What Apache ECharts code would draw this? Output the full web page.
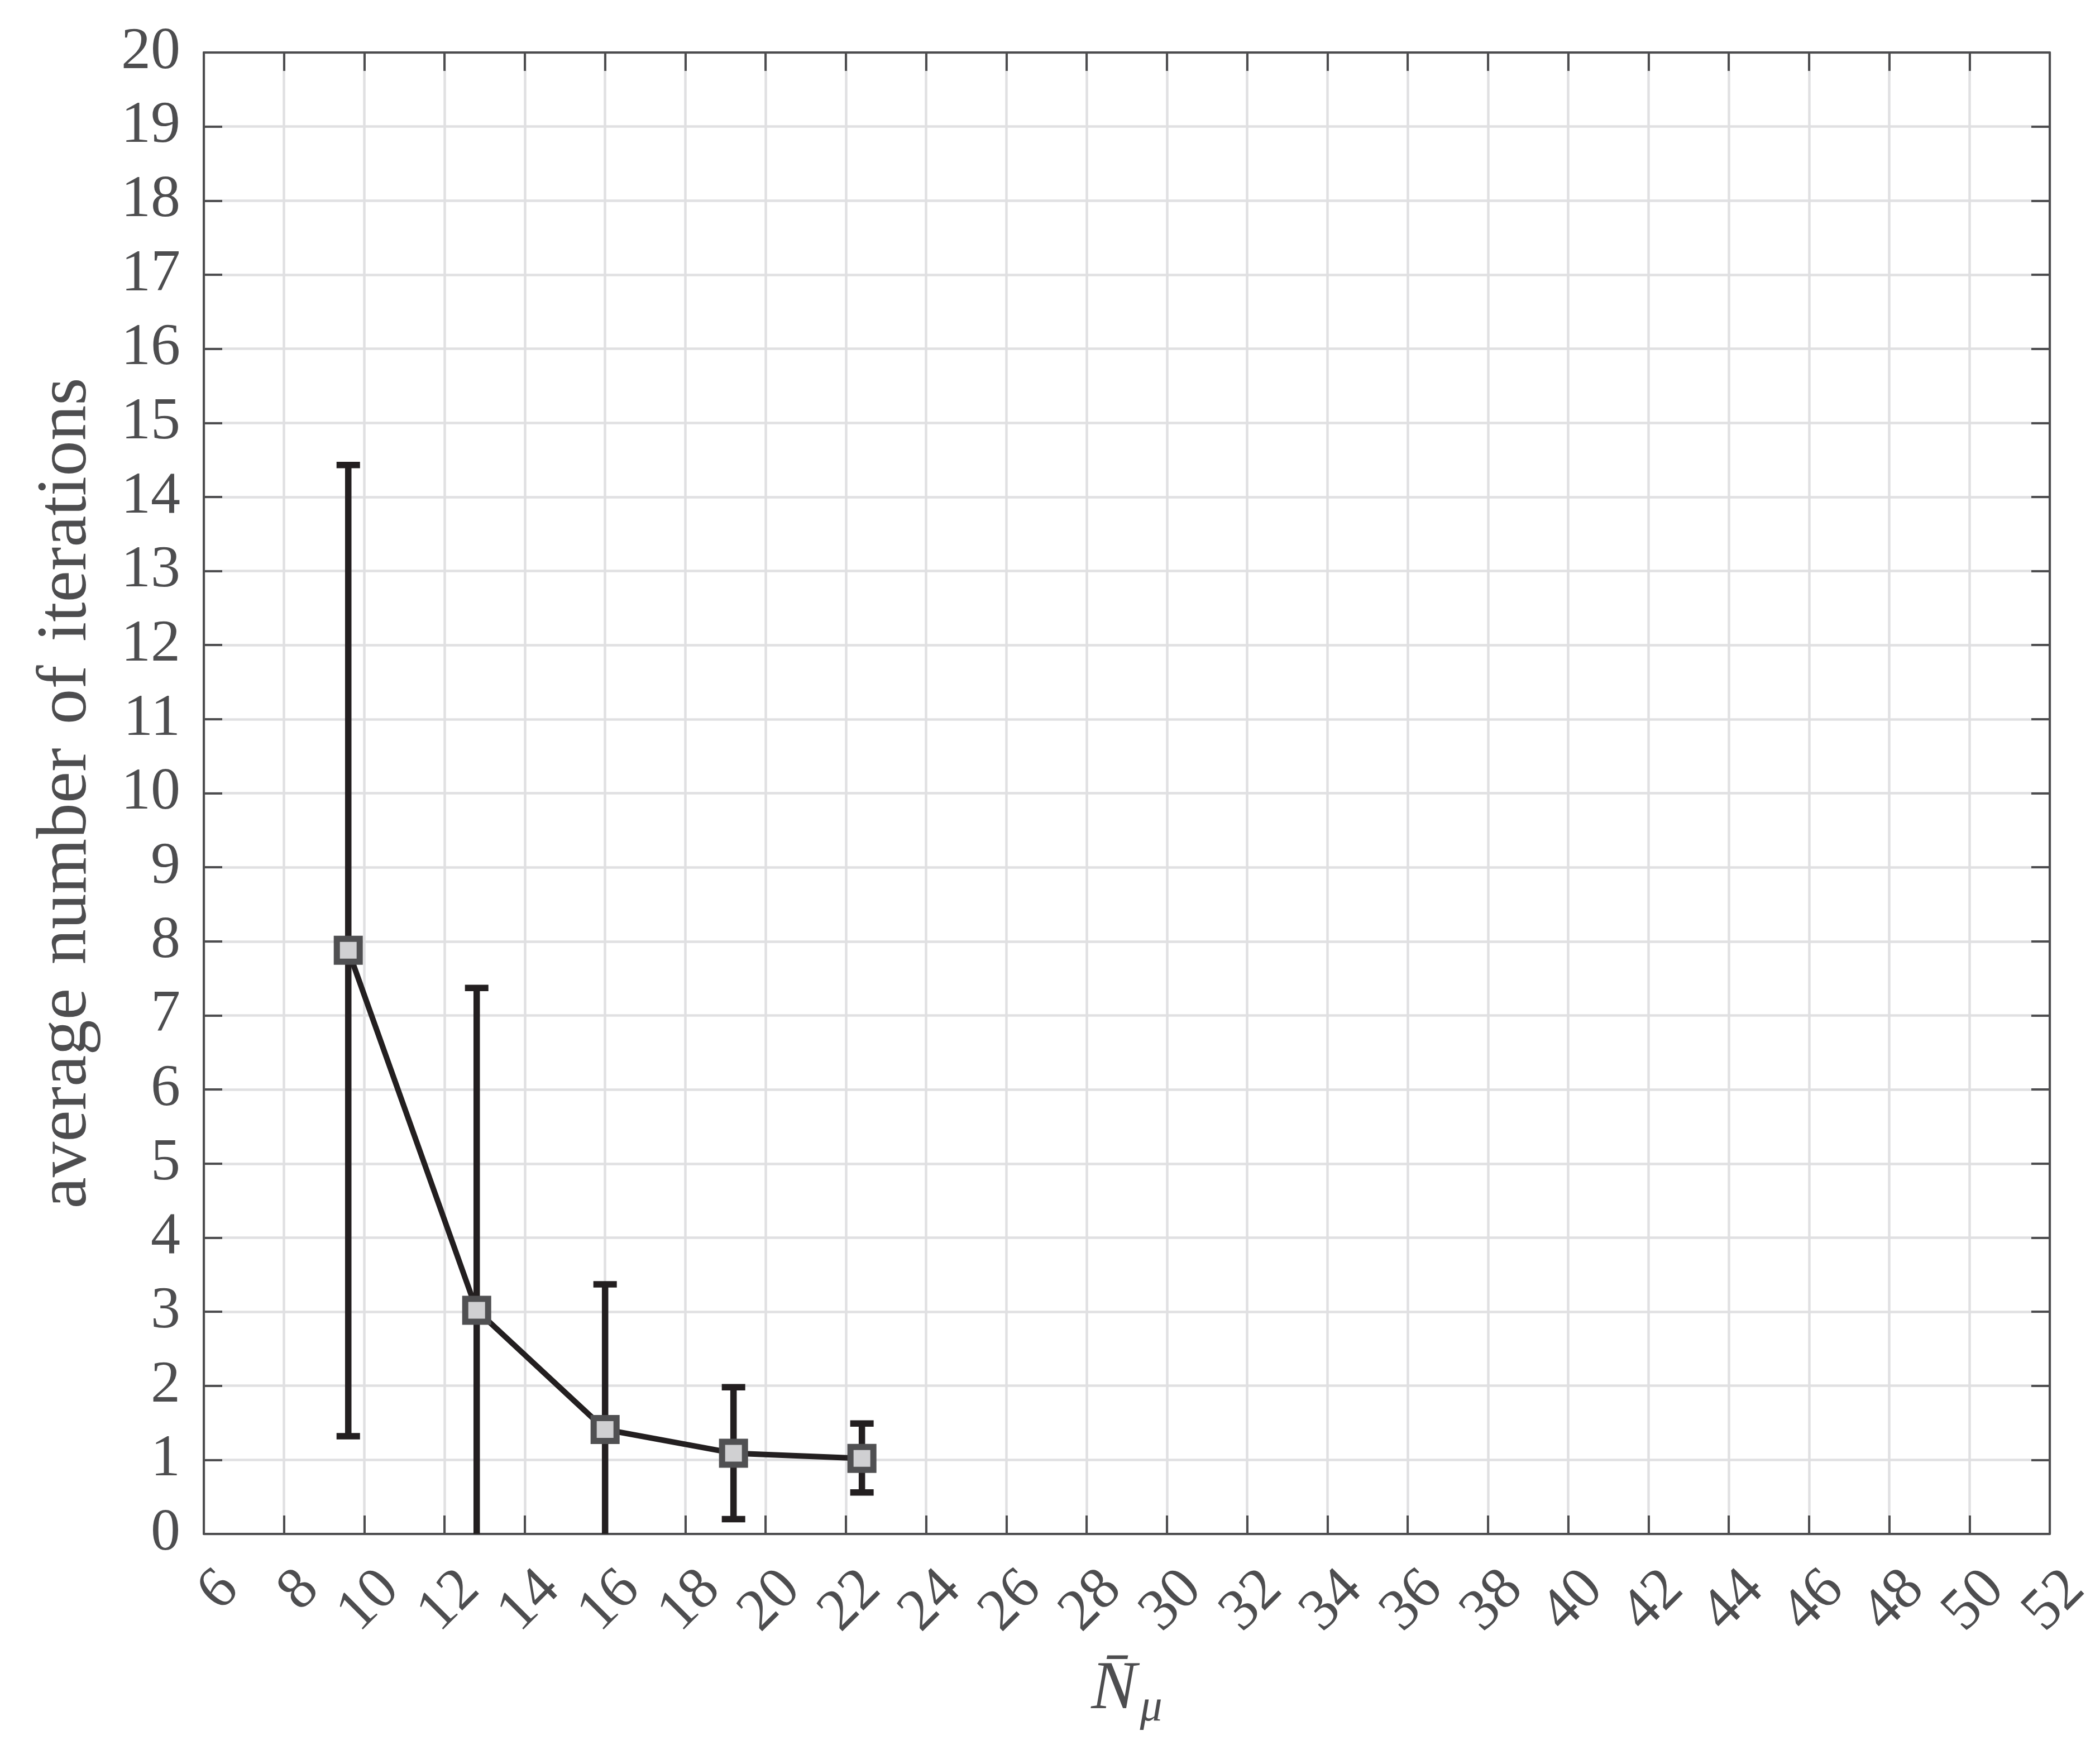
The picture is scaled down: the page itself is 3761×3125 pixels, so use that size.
<!DOCTYPE html>
<html>
<head>
<meta charset="utf-8">
<title>average number of iterations</title>
<script src="https://cdn.jsdelivr.net/npm/echarts@6.0.0/dist/echarts.min.js"></script>
<style>
  html, body { margin: 0; padding: 0; background: #fff; }
  #chart { width: 3761px; height: 3125px; }
</style>
</head>
<body>
<div id="chart"></div>
<script>
// values
const nMu = [9.6, 12.8, 16.0, 19.2, 22.4];
const avgIter = [7.88, 3.02, 1.41, 1.09, 1.02];
const errLow = [1.32, -1.33, -0.55, 0.2, 0.56];
const errHigh = [14.43, 7.37, 3.37, 1.98, 1.49];

const xTicks = { min: 6, max: 52, step: 2 };
const yTicks = { min: 0, max: 20, step: 1 };

(function () {
  let myChart = echarts.init(document.getElementById('chart'));

  const axisColor = '#4d4d4f';
  const gridColor = '#e0e0e2';
  const font = "'Liberation Serif', serif";

  let lineData = nMu.map(function (x, i) { return [x, avgIter[i]]; });
  let errData = nMu.map(function (x, i) { return [x, errLow[i], errHigh[i]]; });

  // ticks pointing inward, box on all four sides
  function boxAxis(extra) {
    return Object.assign({
      type: 'value',
      nameMoveOverlap: false,
      axisLine: { show: true, onZero: false, lineStyle: { color: axisColor, width: 4 } },
      axisTick: { show: true, inside: true, length: 33, lineStyle: { color: axisColor, width: 4 } },
      splitLine: { show: false },
      axisLabel: { show: false }
    }, extra);
  }

  // rotated x tick labels, right end sits down-right of the tick
  function xLabel(showEnds) {
    return {
      show: true,
      showMinLabel: showEnds,
      showMaxLabel: showEnds,
      hideOverlap: false,
      rotate: 45,
      align: 'right',
      verticalAlign: 'middle',
      margin: 37,
      formatter: '{v|{value}}',
      rich: {
        v: { fontSize: 106, fontFamily: font, color: axisColor, padding: [130, 0, 0, 0] }
      },
      fontSize: 106,
      fontFamily: font,
      color: axisColor
    };
  }

  let option = {
    animation: false,
    backgroundColor: '#fff',
    grid: {
      left: 365,
      right: 90,
      top: 94,
      bottom: 378,
      outerBoundsMode: 'none'
    },
    xAxis: [
      boxAxis({
        position: 'bottom',
        min: xTicks.min, max: xTicks.max, interval: xTicks.step,
        splitLine: { show: true, lineStyle: { color: gridColor, width: 4.5 } },
        axisLabel: xLabel(false),
        name: '{n|N\u0304}{s|\u03bc}',
        nameLocation: 'middle',
        nameGap: 219,
        nameTextStyle: {
          color: axisColor,
          fontFamily: font,
          rich: {
            n: { fontSize: 122, lineHeight: 122, fontStyle: 'italic', fontFamily: font, color: axisColor, verticalAlign: 'top' },
            s: { fontSize: 80, lineHeight: 80, fontStyle: 'italic', fontFamily: font, color: axisColor, verticalAlign: 'top', padding: [54, 0, 0, 6] }
          }
        }
      }),
      boxAxis({ position: 'top', min: xTicks.min, max: xTicks.max, interval: xTicks.step }),
      // end labels (6 and 52) on their own so they are not dropped for overlap
      {
        type: 'value',
        position: 'bottom',
        min: xTicks.min, max: xTicks.max, interval: xTicks.max - xTicks.min,
        axisLine: { show: false, onZero: false },
        axisTick: { show: false },
        splitLine: { show: false },
        axisLabel: xLabel(true)
      }
    ],
    yAxis: [
      boxAxis({
        position: 'left',
        min: yTicks.min, max: yTicks.max, interval: yTicks.step,
        splitLine: { show: true, lineStyle: { color: gridColor, width: 4.5 } },
        axisLabel: {
          show: true,
          showMinLabel: true,
          showMaxLabel: true,
          margin: 42,
          fontSize: 106,
          fontFamily: font,
          color: axisColor
        },
        name: 'average\u2004number\u2004of\u2004iterations',
        nameLocation: 'middle',
        nameGap: 182,
        nameTextStyle: { fontSize: 127, fontFamily: font, color: axisColor }
      }),
      boxAxis({ position: 'right', min: yTicks.min, max: yTicks.max, interval: yTicks.step })
    ],
    series: [
      {
        // error bars, clipped at the plot box
        type: 'custom',
        clip: true,
        z: 2,
        silent: true,
        encode: { x: 0, y: [1, 2] },
        data: errData,
        renderItem: function (params, api) {
          let x = api.value(0);
          let lo = api.coord([x, api.value(1)]);
          let hi = api.coord([x, api.value(2)]);
          let half = 21;
          let st = { stroke: '#231f20', lineWidth: 11.5 };
          return {
            type: 'group',
            children: [
              { type: 'line', shape: { x1: lo[0], y1: lo[1], x2: hi[0], y2: hi[1] }, style: st },
              { type: 'line', shape: { x1: hi[0] - half, y1: hi[1], x2: hi[0] + half, y2: hi[1] }, style: st },
              { type: 'line', shape: { x1: lo[0] - half, y1: lo[1], x2: lo[0] + half, y2: lo[1] }, style: st }
            ]
          };
        }
      },
      {
        type: 'line',
        z: 3,
        data: lineData,
        symbol: 'rect',
        symbolSize: 41,
        showAllSymbol: true,
        lineStyle: { color: '#231f20', width: 10 },
        itemStyle: { color: '#d0d0d2', borderColor: '#505052', borderWidth: 11 },
        emphasis: { disabled: true }
      }
    ]
  };

  myChart.setOption(option);
  window.addEventListener('resize', function () {
    myChart.resize();
  });
})();
</script>
</body>
</html>
